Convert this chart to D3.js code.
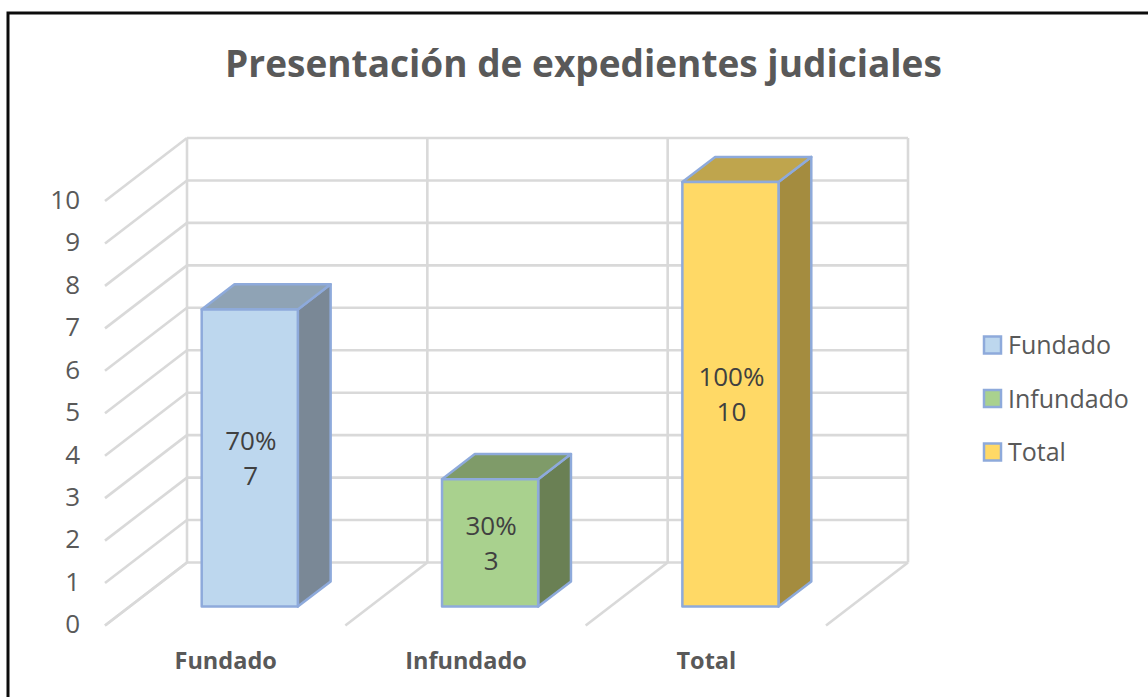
<!DOCTYPE html>
<html>
<head>
<meta charset="utf-8">
<script src="https://cdnjs.cloudflare.com/ajax/libs/d3/7.8.5/d3.min.js"></script>
<style>
  body { margin: 0; background: #fff; }
  text { font-family: "Open Sans", sans-serif; fill: #595959; }
</style>
</head>
<body>
<div id="chart"></div>
<script>
const categories = ["Fundado", "Infundado", "Total"];
const values = [7, 3, 10];
const percents = ["70%", "30%", "100%"];
const yTicks = [0, 1, 2, 3, 4, 5, 6, 7, 8, 9, 10];
const frontColors = ["#bdd7ee", "#a9d18e", "#ffd966"];
const topColors = ["#8fa3b5", "#7f9b69", "#bfa54d"];
const sideColors = ["#7a8896", "#6a8054", "#a48c3f"];

const width = 1148, height = 697;
// oblique offset of the floor, wall to front edge
const depthX = -82, depthY = 63;
const barNear = 0.7, barFar = 0.3;

const svg = d3.select("#chart").append("svg")
    .attr("width", width)
    .attr("height", height);

const x = d3.scaleBand()
    .domain(categories)
    .range([187, 908])
    .paddingInner(0)
    .paddingOuter(0);

const y = d3.scaleLinear()
    .domain([0, 10])
    .range([562.5, 138]);

const barW = x.bandwidth() * 0.4;

// frame, the bottom and right edges are cropped off
svg.append("path")
    .attr("d", d3.line()([[8, height], [8, 13], [width, 13]]))
    .attr("fill", "none")
    .attr("stroke", "#0c0c0c")
    .attr("stroke-width", 3);

svg.append("text")
    .attr("x", 583.5)
    .attr("y", 77)
    .attr("text-anchor", "middle")
    .attr("font-size", 37)
    .attr("font-weight", 700)
    .text("Presentación de expedientes judiciales");

const grid = svg.append("g")
    .attr("stroke", "#d9d9d9")
    .attr("stroke-width", 2.6)
    .attr("fill", "none");

// back wall horizontals
grid.selectAll(".h")
    .data(yTicks)
    .enter().append("line")
    .attr("x1", x.range()[0])
    .attr("x2", x.range()[1])
    .attr("y1", d => y(d))
    .attr("y2", d => y(d));

// side wall diagonals
grid.selectAll(".side")
    .data(yTicks)
    .enter().append("line")
    .attr("x1", x.range()[0])
    .attr("y1", d => y(d))
    .attr("x2", x.range()[0] + depthX)
    .attr("y2", d => y(d) + depthY);

// verticals and floor lines at each category boundary
const edges = categories.map(c => x(c)).concat(x.range()[1]);
grid.selectAll(".v")
    .data(edges)
    .enter().append("line")
    .attr("x1", d => d)
    .attr("x2", d => d)
    .attr("y1", y(10))
    .attr("y2", y(0));

grid.selectAll(".floor")
    .data(edges)
    .enter().append("line")
    .attr("x1", d => d)
    .attr("y1", y(0))
    .attr("x2", d => d + depthX)
    .attr("y2", y(0) + depthY);

// projects a wall position to the screen at a given depth
const pt = (px, py, t) => [px + depthX * t, py + depthY * t];

const bars = svg.selectAll(".bar")
    .data(categories)
    .enter().append("g")
    .attr("class", "bar")
    .attr("stroke", "#8eaadb")
    .attr("stroke-width", 2.5)
    .attr("stroke-linejoin", "round");

const left = (c) => x(c) + (x.bandwidth() - barW) / 2;
const poly = (pts) => "M" + pts.join("L") + "Z";

bars.append("path")
    .attr("fill", (c, i) => sideColors[i])
    .attr("d", (c, i) => poly([
        pt(left(c) + barW, y(values[i]), barNear),
        pt(left(c) + barW, y(values[i]), barFar),
        pt(left(c) + barW, y(0), barFar),
        pt(left(c) + barW, y(0), barNear)
    ]));

bars.append("path")
    .attr("fill", (c, i) => topColors[i])
    .attr("d", (c, i) => poly([
        pt(left(c), y(values[i]), barNear),
        pt(left(c), y(values[i]), barFar),
        pt(left(c) + barW, y(values[i]), barFar),
        pt(left(c) + barW, y(values[i]), barNear)
    ]));

bars.append("path")
    .attr("fill", (c, i) => frontColors[i])
    .attr("d", (c, i) => poly([
        pt(left(c), y(values[i]), barNear),
        pt(left(c) + barW, y(values[i]), barNear),
        pt(left(c) + barW, y(0), barNear),
        pt(left(c), y(0), barNear)
    ]));

const labels = svg.selectAll(".lbl")
    .data(categories)
    .enter().append("text")
    .attr("class", "lbl")
    .attr("text-anchor", "middle")
    .attr("font-size", 26)
    .style("fill", "#404040")
    .attr("transform", (c, i) => {
        const p = pt(x(c) + x.bandwidth() / 2, y(values[i] / 2), barNear);
        return "translate(" + (p[0] + 1) + "," + p[1] + ")";
    });
labels.append("tspan").attr("x", 0).attr("y", -8).text((c, i) => percents[i]);
labels.append("tspan").attr("x", 0).attr("y", 27).text((c, i) => values[i]);

// value axis sits on the front edge of the side wall
const yAxis = svg.append("g")
    .attr("transform", "translate(" + (x.range()[0] + depthX) + "," + (depthY - 1) + ")")
    .call(d3.axisLeft(y).tickValues(yTicks).tickSize(0).tickPadding(25));
yAxis.select(".domain").remove();
yAxis.selectAll("text")
    .attr("font-size", 26)
    .attr("font-family", "Open Sans")
    .style("fill", "#595959");

const xAxis = svg.append("g")
    .attr("transform", "translate(" + (depthX + 0.5) + ",652)")
    .call(d3.axisBottom(x).tickSize(0).tickPadding(0));
xAxis.select(".domain").remove();
xAxis.selectAll("text")
    .attr("font-size", 23.5)
    .attr("font-weight", 700)
    .attr("font-family", "Open Sans")
    .style("fill", "#595959");

const legendY = d3.scalePoint()
    .domain(categories)
    .range([345, 452]);

const legend = svg.selectAll(".legend")
    .data(categories)
    .enter().append("g")
    .attr("class", "legend")
    .attr("transform", c => "translate(984," + legendY(c) + ")");

legend.append("rect")
    .attr("y", -8.5)
    .attr("width", 17)
    .attr("height", 17)
    .attr("fill", (c, i) => frontColors[i])
    .attr("stroke", "#8eaadb")
    .attr("stroke-width", 2.5);

legend.append("text")
    .attr("x", 24)
    .attr("y", 9)
    .attr("font-size", 25)
    .text(c => c);
</script>
</body>
</html>
